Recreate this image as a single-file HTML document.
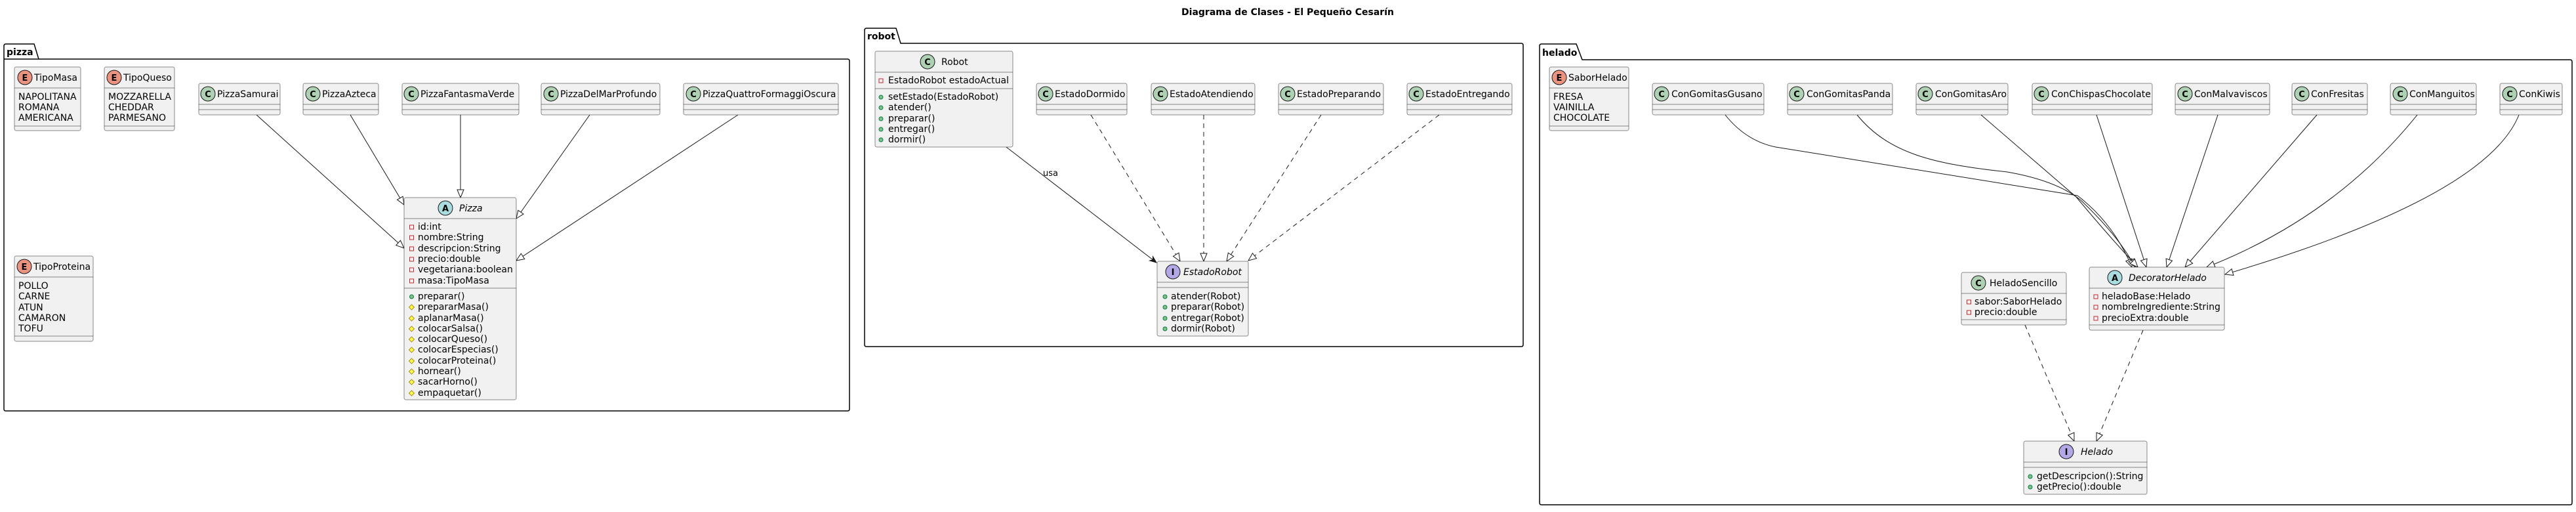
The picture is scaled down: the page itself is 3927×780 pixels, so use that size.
<!DOCTYPE html>
<html><head><meta charset="utf-8"><style>
html,body{margin:0;padding:0;background:#fff;}
svg text{font-family:"DejaVu Sans","Liberation Sans",sans-serif;font-size:14px;fill:#000;}
.b{fill:#F1F1F1;stroke:#181818;stroke-width:0.5;}
.s{stroke:#181818;stroke-width:0.5;}
.pk{fill:none;stroke:#000;stroke-width:1.5;}
.ln{fill:none;stroke:#181818;stroke-width:1;}
.dl{fill:none;stroke:#181818;stroke-width:1;stroke-dasharray:7,6;}
.ic{stroke:#181818;stroke-width:1;}
.il{font-weight:bold;font-size:13px;text-anchor:middle;}
.pv{fill:none;stroke:#C82930;stroke-width:1;}
.pu{fill:#84BE84;stroke:#038048;stroke-width:1;}
.pr{fill:#FFFF44;stroke:#B38D22;stroke-width:1;}
.it{font-style:italic;}
</style></head><body>
<svg width="3927" height="775" viewBox="0 0 3927 775" xmlns="http://www.w3.org/2000/svg">
<defs>
<marker id="tri" markerUnits="userSpaceOnUse" markerWidth="14" markerHeight="12" refX="13" refY="6" orient="auto"><path d="M1,1 L13,6 L1,11 z" fill="#fff" stroke="#181818" stroke-width="1"/></marker>
<marker id="arr" markerUnits="userSpaceOnUse" markerWidth="12" markerHeight="10" refX="11" refY="5" orient="auto"><path d="M1,1 L11,5 L1,9 L4,5 z" fill="#181818" stroke="#181818" stroke-width="1"/></marker>
</defs>

<text x="1963" y="23" style="font-weight:bold;text-anchor:middle">Diagrama de Clases - El Pequeño Cesarín</text>

<!-- packages -->
<path class="pk" d="M6,90 L6,70 Q6,67 9,67 L52,67 L59,90 L1292,90 Q1295,90 1295,93 L1295,623 Q1295,626 1292,626 L9,626 Q6,626 6,623 Z"/>
<line class="pk" x1="6" y1="90" x2="59" y2="90"/>
<text x="10" y="84" style="font-weight:bold">pizza</text>

<path class="pk" d="M1318,66 L1318,46 Q1318,43 1321,43 L1366,43 L1373,66 L2319,66 Q2322,66 2322,69 L2322,525 Q2322,528 2319,528 L1321,528 Q1318,528 1318,525 Z"/>
<text x="1322" y="60" style="font-weight:bold">robot</text>

<path class="pk" d="M2347,91 L2347,70 Q2347,67 2350,67 L2403,67 L2412,91 L3918,91 Q3921,91 3921,94 L3921,766 Q3921,769 3918,769 L2350,769 Q2347,769 2347,766 Z"/>
<text x="2351" y="85" style="font-weight:bold">helado</text>

<!-- connectors pizza -->
<path class="ln" d="M391,175 L616,378" marker-end="url(#tri)"/>
<path class="ln" d="M534,175 L616,312" marker-end="url(#tri)"/>
<path class="ln" d="M702,175 L702,301" marker-end="url(#tri)"/>
<path class="ln" d="M899,175 L787,333" marker-end="url(#tri)"/>
<path class="ln" d="M1125,175 L787,397" marker-end="url(#tri)"/>

<!-- connectors robot -->
<path class="ln" d="M1534,224 L1763,400" marker-end="url(#arr)"/>
<text x="1590" y="268" style="font-size:13px">usa</text>
<path class="dl" d="M1663,175 L1799,398" marker-end="url(#tri)"/>
<path class="dl" d="M1835,175 L1835,398" marker-end="url(#tri)"/>
<path class="dl" d="M2014,175 L1870,398" marker-end="url(#tri)"/>
<path class="dl" d="M2194,175 L1903,397" marker-end="url(#tri)"/>

<!-- connectors helado -->
<path class="ln" d="M2630,175 Q2662,215 2707,224 L3167,298 Q3222,340 3250,407" marker-end="url(#tri)"/>
<path class="ln" d="M2831,175 C2880,235 2950,250 3060,262 Q3135,275 3172,305 Q3230,360 3255,407" marker-end="url(#tri)"/>
<path class="ln" d="M3020,175 L3165,300 Q3215,360 3259,407" marker-end="url(#tri)"/>
<path class="ln" d="M3196,175 L3272,407" marker-end="url(#tri)"/>
<path class="ln" d="M3381,175 L3303,407" marker-end="url(#tri)"/>
<path class="ln" d="M3532,175 L3331,407" marker-end="url(#tri)"/>
<path class="ln" d="M3685,175 Q3560,330 3364,407" marker-end="url(#tri)"/>
<path class="ln" d="M3840,175 Q3790,300 3392,418" marker-end="url(#tri)"/>
<path class="dl" d="M3087,495 L3162,672" marker-end="url(#tri)"/>
<path class="dl" d="M3267,503 L3196,672" marker-end="url(#tri)"/>

<!-- Enums pizza -->
<g>
<rect class="b" x="22" y="102" width="101" height="97" rx="2.5"/>
<line class="s" x1="22" y1="134" x2="123" y2="134"/><line class="s" x1="22" y1="192" x2="123" y2="192"/>
<circle class="ic" cx="38" cy="118" r="11" fill="#EB937F"/><text class="il" x="38" y="123">E</text>
<text x="52" y="123">TipoMasa</text>
<text x="28" y="152">NAPOLITANA</text><text x="28" y="168">ROMANA</text><text x="28" y="184">AMERICANA</text>
</g>
<g>
<rect class="b" x="159" y="102" width="107" height="97" rx="2.5"/>
<line class="s" x1="159" y1="134" x2="266" y2="134"/><line class="s" x1="159" y1="192" x2="266" y2="192"/>
<circle class="ic" cx="174" cy="118" r="11" fill="#EB937F"/><text class="il" x="174" y="123">E</text>
<text x="188" y="123">TipoQueso</text>
<text x="165" y="152">MOZZARELLA</text><text x="165" y="168">CHEDDAR</text><text x="165" y="184">PARMESANO</text>
</g>
<g>
<rect class="b" x="22" y="390" width="120" height="130" rx="2.5"/>
<line class="s" x1="22" y1="422" x2="142" y2="422"/><line class="s" x1="22" y1="512" x2="142" y2="512"/>
<circle class="ic" cx="37" cy="406" r="11" fill="#EB937F"/><text class="il" x="37" y="411">E</text>
<text x="51" y="411">TipoProteina</text>
<text x="28" y="440">POLLO</text><text x="28" y="456">CARNE</text><text x="28" y="473">ATUN</text><text x="28" y="489">CAMARON</text><text x="28" y="505">TOFU</text>
</g>

<!-- simple classes -->
<g>
<rect class="b" x="303" y="127" width="124" height="48" rx="2.5"/><line class="s" x1="303" y1="159" x2="427" y2="159"/><line class="s" x1="303" y1="167" x2="427" y2="167"/>
<circle class="ic" cx="317" cy="143" r="11" fill="#ADD1B2"/><text class="il" x="317" y="148">C</text><text x="331" y="148">PizzaSamurai</text>
</g>
<g>
<rect class="b" x="462" y="127" width="115" height="48" rx="2.5"/><line class="s" x1="462" y1="159" x2="577" y2="159"/><line class="s" x1="462" y1="167" x2="577" y2="167"/>
<circle class="ic" cx="477" cy="143" r="11" fill="#ADD1B2"/><text class="il" x="477" y="148">C</text><text x="491" y="148">PizzaAzteca</text>
</g>
<g>
<rect class="b" x="613" y="127" width="178" height="48" rx="2.5"/><line class="s" x1="613" y1="159" x2="791" y2="159"/><line class="s" x1="613" y1="167" x2="791" y2="167"/>
<circle class="ic" cx="627" cy="143" r="11" fill="#ADD1B2"/><text class="il" x="627" y="148">C</text><text x="641" y="148">PizzaFantasmaVerde</text>
</g>
<g>
<rect class="b" x="825" y="127" width="181" height="48" rx="2.5"/><line class="s" x1="825" y1="159" x2="1006" y2="159"/><line class="s" x1="825" y1="167" x2="1006" y2="167"/>
<circle class="ic" cx="840" cy="143" r="11" fill="#ADD1B2"/><text class="il" x="840" y="148">C</text><text x="854" y="148">PizzaDelMarProfundo</text>
</g>
<g>
<rect class="b" x="1042" y="127" width="236" height="48" rx="2.5"/><line class="s" x1="1042" y1="159" x2="1278" y2="159"/><line class="s" x1="1042" y1="167" x2="1278" y2="167"/>
<circle class="ic" cx="1057" cy="143" r="11" fill="#ADD1B2"/><text class="il" x="1057" y="148">C</text><text x="1071" y="148">PizzaQuattroFormaggiOscura</text>
</g>

<g>
<rect class="b" x="1580" y="127" width="138" height="48" rx="2.5"/><line class="s" x1="1580" y1="159" x2="1718" y2="159"/><line class="s" x1="1580" y1="167" x2="1718" y2="167"/>
<circle class="ic" cx="1594" cy="143" r="11" fill="#ADD1B2"/><text class="il" x="1594" y="148">C</text><text x="1608" y="148">EstadoDormido</text>
</g>
<g>
<rect class="b" x="1755" y="127" width="158" height="48" rx="2.5"/><line class="s" x1="1755" y1="159" x2="1913" y2="159"/><line class="s" x1="1755" y1="167" x2="1913" y2="167"/>
<circle class="ic" cx="1769" cy="143" r="11" fill="#ADD1B2"/><text class="il" x="1769" y="148">C</text><text x="1783" y="148">EstadoAtendiendo</text>
</g>
<g>
<rect class="b" x="1949" y="127" width="160" height="48" rx="2.5"/><line class="s" x1="1949" y1="159" x2="2109" y2="159"/><line class="s" x1="1949" y1="167" x2="2109" y2="167"/>
<circle class="ic" cx="1963" cy="143" r="11" fill="#ADD1B2"/><text class="il" x="1963" y="148">C</text><text x="1977" y="148">EstadoPreparando</text>
</g>
<g>
<rect class="b" x="2145" y="127" width="160" height="48" rx="2.5"/><line class="s" x1="2145" y1="159" x2="2305" y2="159"/><line class="s" x1="2145" y1="167" x2="2305" y2="167"/>
<circle class="ic" cx="2159" cy="143" r="11" fill="#ADD1B2"/><text class="il" x="2159" y="148">C</text><text x="2173" y="148">EstadoEntregando</text>
</g>

<g>
<rect class="b" x="2519" y="127" width="170" height="48" rx="2.5"/><line class="s" x1="2519" y1="159" x2="2689" y2="159"/><line class="s" x1="2519" y1="167" x2="2689" y2="167"/>
<circle class="ic" cx="2533" cy="143" r="11" fill="#ADD1B2"/><text class="il" x="2533" y="148">C</text><text x="2548" y="148">ConGomitasGusano</text>
</g>
<g>
<rect class="b" x="2725" y="127" width="160" height="48" rx="2.5"/><line class="s" x1="2725" y1="159" x2="2885" y2="159"/><line class="s" x1="2725" y1="167" x2="2885" y2="167"/>
<circle class="ic" cx="2739" cy="143" r="11" fill="#ADD1B2"/><text class="il" x="2739" y="148">C</text><text x="2754" y="148">ConGomitasPanda</text>
</g>
<g>
<rect class="b" x="2921" y="127" width="140" height="48" rx="2.5"/><line class="s" x1="2921" y1="159" x2="3061" y2="159"/><line class="s" x1="2921" y1="167" x2="3061" y2="167"/>
<circle class="ic" cx="2935" cy="143" r="11" fill="#ADD1B2"/><text class="il" x="2935" y="148">C</text><text x="2950" y="148">ConGomitasAro</text>
</g>
<g>
<rect class="b" x="3098" y="127" width="183" height="48" rx="2.5"/><line class="s" x1="3098" y1="159" x2="3281" y2="159"/><line class="s" x1="3098" y1="167" x2="3281" y2="167"/>
<circle class="ic" cx="3112" cy="143" r="11" fill="#ADD1B2"/><text class="il" x="3112" y="148">C</text><text x="3127" y="148">ConChispasChocolate</text>
</g>
<g>
<rect class="b" x="3316" y="127" width="144" height="48" rx="2.5"/><line class="s" x1="3316" y1="159" x2="3460" y2="159"/><line class="s" x1="3316" y1="167" x2="3460" y2="167"/>
<circle class="ic" cx="3331" cy="143" r="11" fill="#ADD1B2"/><text class="il" x="3331" y="148">C</text><text x="3345" y="148">ConMalvaviscos</text>
</g>
<g>
<rect class="b" x="3494" y="127" width="115" height="48" rx="2.5"/><line class="s" x1="3494" y1="159" x2="3609" y2="159"/><line class="s" x1="3494" y1="167" x2="3609" y2="167"/>
<circle class="ic" cx="3509" cy="143" r="11" fill="#ADD1B2"/><text class="il" x="3509" y="148">C</text><text x="3523" y="148">ConFresitas</text>
</g>
<g>
<rect class="b" x="3644" y="127" width="131" height="48" rx="2.5"/><line class="s" x1="3644" y1="159" x2="3775" y2="159"/><line class="s" x1="3644" y1="167" x2="3775" y2="167"/>
<circle class="ic" cx="3659" cy="143" r="11" fill="#ADD1B2"/><text class="il" x="3659" y="148">C</text><text x="3673" y="148">ConManguitos</text>
</g>
<g>
<rect class="b" x="3811" y="127" width="95" height="48" rx="2.5"/><line class="s" x1="3811" y1="159" x2="3906" y2="159"/><line class="s" x1="3811" y1="167" x2="3906" y2="167"/>
<circle class="ic" cx="3826" cy="143" r="11" fill="#ADD1B2"/><text class="il" x="3826" y="148">C</text><text x="3840" y="148">ConKiwis</text>
</g>

<!-- Pizza abstract -->
<g>
<rect class="b" x="616" y="301" width="171" height="308" rx="2.5"/>
<line class="s" x1="616" y1="333" x2="787" y2="333"/><line class="s" x1="616" y1="439" x2="787" y2="439"/>
<circle class="ic" cx="679" cy="317" r="11" fill="#A9DCDF"/><text class="il" x="679" y="322">A</text>
<text class="it" x="700" y="322">Pizza</text>
<rect class="pv" x="624.5" y="343" width="6" height="6"/><text x="637" y="350">id:int</text>
<rect class="pv" x="624.5" y="359" width="6" height="6"/><text x="637" y="366">nombre:String</text>
<rect class="pv" x="624.5" y="376" width="6" height="6"/><text x="637" y="383">descripcion:String</text>
<rect class="pv" x="624.5" y="392" width="6" height="6"/><text x="637" y="399">precio:double</text>
<rect class="pv" x="624.5" y="408" width="6" height="6"/><text x="637" y="415">vegetariana:boolean</text>
<rect class="pv" x="624.5" y="425" width="6" height="6"/><text x="637" y="432">masa:TipoMasa</text>
<circle class="pu" cx="627.5" cy="452" r="3"/><text x="637" y="456">preparar()</text>
<path class="pr" d="M627.5,464 L631.5,468 L627.5,472 L623.5,468 Z"/><text x="637" y="472">prepararMasa()</text>
<path class="pr" d="M627.5,481 L631.5,485 L627.5,489 L623.5,485 Z"/><text x="637" y="489">aplanarMasa()</text>
<path class="pr" d="M627.5,497 L631.5,501 L627.5,505 L623.5,501 Z"/><text x="637" y="505">colocarSalsa()</text>
<path class="pr" d="M627.5,513 L631.5,517 L627.5,521 L623.5,517 Z"/><text x="637" y="521">colocarQueso()</text>
<path class="pr" d="M627.5,529 L631.5,533 L627.5,537 L623.5,533 Z"/><text x="637" y="537">colocarEspecias()</text>
<path class="pr" d="M627.5,546 L631.5,550 L627.5,554 L623.5,550 Z"/><text x="637" y="554">colocarProteina()</text>
<path class="pr" d="M627.5,562 L631.5,566 L627.5,570 L623.5,566 Z"/><text x="637" y="570">hornear()</text>
<path class="pr" d="M627.5,578 L631.5,582 L627.5,586 L623.5,582 Z"/><text x="637" y="586">sacarHorno()</text>
<path class="pr" d="M627.5,595 L631.5,599 L627.5,603 L623.5,599 Z"/><text x="637" y="603">empaquetar()</text>
</g>

<!-- Robot -->
<g>
<rect class="b" x="1334" y="78" width="210" height="146" rx="2.5"/>
<line class="s" x1="1334" y1="110" x2="1544" y2="110"/><line class="s" x1="1334" y1="135" x2="1544" y2="135"/>
<circle class="ic" cx="1414" cy="94" r="11" fill="#ADD1B2"/><text class="il" x="1414" y="99">C</text>
<text x="1435" y="99">Robot</text>
<rect class="pv" x="1340" y="120" width="6" height="6"/><text x="1354" y="127">EstadoRobot estadoActual</text>
<circle class="pu" cx="1343" cy="148" r="3"/><text x="1354" y="152">setEstado(EstadoRobot)</text>
<circle class="pu" cx="1343" cy="164" r="3"/><text x="1354" y="168">atender()</text>
<circle class="pu" cx="1343" cy="181" r="3"/><text x="1354" y="185">preparar()</text>
<circle class="pu" cx="1343" cy="197" r="3"/><text x="1354" y="201">entregar()</text>
<circle class="pu" cx="1343" cy="213" r="3"/><text x="1354" y="217">dormir()</text>
</g>

<!-- EstadoRobot -->
<g>
<rect class="b" x="1764" y="398" width="139" height="114" rx="2.5"/>
<line class="s" x1="1764" y1="430" x2="1903" y2="430"/><line class="s" x1="1764" y1="438" x2="1903" y2="438"/>
<circle class="ic" cx="1788" cy="414" r="11" fill="#B4A7E5"/><text class="il" x="1788" y="419">I</text>
<text class="it" x="1804" y="419">EstadoRobot</text>
<circle class="pu" cx="1776" cy="452" r="3"/><text x="1785" y="456">atender(Robot)</text>
<circle class="pu" cx="1776" cy="468" r="3"/><text x="1785" y="472">preparar(Robot)</text>
<circle class="pu" cx="1776" cy="485" r="3"/><text x="1785" y="489">entregar(Robot)</text>
<circle class="pu" cx="1776" cy="501" r="3"/><text x="1785" y="505">dormir(Robot)</text>
</g>

<!-- SaborHelado -->
<g>
<rect class="b" x="2362" y="102" width="121" height="97" rx="2.5"/>
<line class="s" x1="2362" y1="134" x2="2483" y2="134"/><line class="s" x1="2362" y1="192" x2="2483" y2="192"/>
<circle class="ic" cx="2377" cy="118" r="11" fill="#EB937F"/><text class="il" x="2377" y="123">E</text>
<text x="2391" y="123">SaborHelado</text>
<text x="2368" y="152">FRESA</text><text x="2368" y="168">VAINILLA</text><text x="2368" y="184">CHOCOLATE</text>
</g>

<!-- HeladoSencillo -->
<g>
<rect class="b" x="2990" y="415" width="160" height="80" rx="2.5"/>
<line class="s" x1="2990" y1="447" x2="3150" y2="447"/><line class="s" x1="2990" y1="487" x2="3150" y2="487"/>
<circle class="ic" cx="3016" cy="431" r="11" fill="#ADD1B2"/><text class="il" x="3016" y="436">C</text>
<text x="3033" y="436">HeladoSencillo</text>
<rect class="pv" x="2998.5" y="457" width="6" height="6"/><text x="3010" y="464">sabor:SaborHelado</text>
<rect class="pv" x="2998.5" y="473" width="6" height="6"/><text x="3010" y="480">precio:double</text>
</g>

<!-- DecoratorHelado -->
<g>
<rect class="b" x="3185" y="407" width="206" height="96" rx="2.5"/>
<line class="s" x1="3185" y1="439" x2="3391" y2="439"/><line class="s" x1="3185" y1="495" x2="3391" y2="495"/>
<circle class="ic" cx="3224" cy="423" r="11" fill="#A9DCDF"/><text class="il" x="3224" y="428">A</text>
<text class="it" x="3245" y="428">DecoratorHelado</text>
<rect class="pv" x="3192" y="449" width="6" height="6"/><text x="3204" y="456">heladoBase:Helado</text>
<rect class="pv" x="3192" y="465" width="6" height="6"/><text x="3204" y="472">nombreIngrediente:String</text>
<rect class="pv" x="3192" y="482" width="6" height="6"/><text x="3204" y="489">precioExtra:double</text>
</g>

<!-- Helado -->
<g>
<rect class="b" x="3085" y="672" width="188" height="81" rx="2.5"/>
<line class="s" x1="3085" y1="704" x2="3273" y2="704"/><line class="s" x1="3085" y1="712" x2="3273" y2="712"/>
<circle class="ic" cx="3150" cy="688" r="11" fill="#B4A7E5"/><text class="il" x="3150" y="693">I</text>
<text class="it" x="3172" y="693">Helado</text>
<circle class="pu" cx="3095" cy="726" r="3"/><text x="3105" y="730">getDescripcion():String</text>
<circle class="pu" cx="3095" cy="742" r="3"/><text x="3105" y="746">getPrecio():double</text>
</g>
</svg>
</body></html>
